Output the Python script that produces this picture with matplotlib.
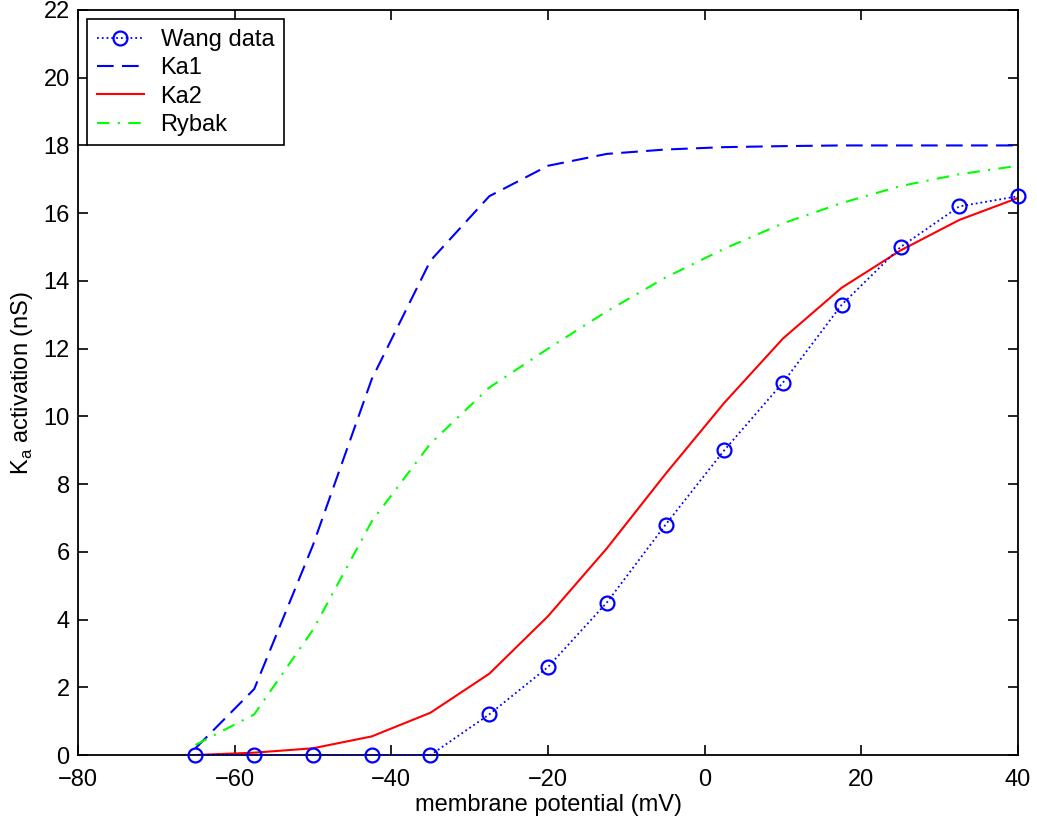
import numpy as np
import matplotlib.pyplot as plt

plt.rcParams['font.family'] = ['Liberation Sans', 'DejaVu Sans']

v = [-65, -57.5, -50, -42.5, -35, -27.5, -20, -12.5, -5, 2.5, 10, 17.5, 25, 32.5, 40]
wang = [0, 0, 0, 0, 0, 1.2, 2.6, 4.5, 6.8, 9.0, 11.0, 13.3, 15.0, 16.2, 16.5]
ka1 = [0.2, 1.95, 6.2, 11.1, 14.6, 16.5, 17.4, 17.75, 17.88, 17.95, 17.98, 18.0, 18.0, 18.0, 18.0]
ka2 = [0.0, 0.07, 0.2, 0.55, 1.25, 2.4, 4.1, 6.1, 8.3, 10.4, 12.3, 13.8, 14.9, 15.8, 16.45]
rybak = [0.3, 1.2, 3.7, 6.9, 9.2, 10.85, 12.0, 13.1, 14.1, 14.95, 15.7, 16.3, 16.8, 17.15, 17.4]

fig = plt.figure(figsize=(10.37, 8.25), dpi=100)
ax = fig.add_axes([0.0752, 0.0848, 0.9065, 0.9031])

ax.plot(v, wang, ':o', color='#0000ff', mfc='none', mec='#0000ff', ms=10, mew=1.6, lw=1.3,
        label='Wang data', clip_on=False, zorder=5)
ax.plot(v, ka1, '--', color='#0000ff', lw=1.5, dashes=(8, 4), label='Ka1')
ax.plot(v, ka2, '-', color='#ff0000', lw=1.5, label='Ka2')
ax.plot(v, rybak, '-.', color='#00ff00', lw=1.5, dashes=(6, 4, 1, 4), label='Rybak')

ax.set_xlim(-80, 40)
ax.set_ylim(0, 22)
ax.set_xticks(np.arange(-80, 41, 20))
ax.set_yticks(np.arange(0, 23, 2))
ax.set_xticklabels([str(t).replace('-', '\u2212') for t in range(-80, 41, 20)])
ax.tick_params(direction='in', top=True, right=True, labelsize=17, length=7, width=1.2, pad=6)
ax.tick_params(axis='x', pad=10)
for s in ax.spines.values():
    s.set_linewidth(1.3)
ax.set_xlabel('membrane potential (mV)', fontsize=17, labelpad=2)
ax.set_ylabel(r'K$_\mathregular{a}$ activation (nS)', fontsize=17, labelpad=6)

leg = ax.legend(loc='upper left', fontsize=17, fancybox=False, edgecolor='black',
                framealpha=1, borderaxespad=0.4, handlelength=2.0, labelspacing=0.27,
                borderpad=0.4, handletextpad=0.7)
leg.get_frame().set_linewidth(1.2)

fig.savefig('out.png', dpi=100)
